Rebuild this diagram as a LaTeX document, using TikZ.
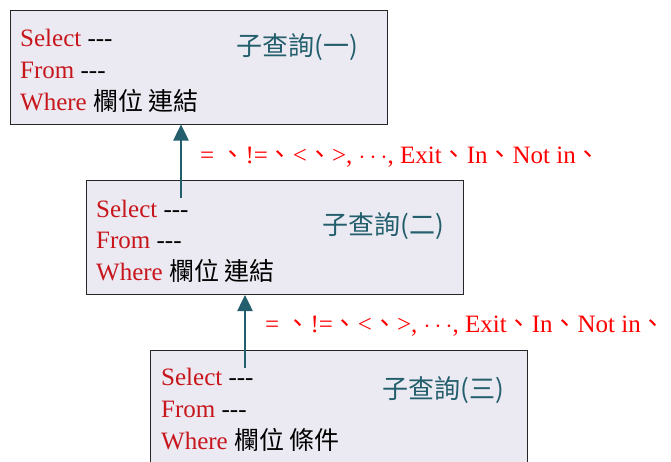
\documentclass[tikz,border=0pt]{standalone}
\usepackage{fontspec}
\setmainfont{Liberation Serif}
\newfontfamily\cjk{Noto Sans CJK TC}
\usetikzlibrary{arrows.meta,positioning}
\usepackage{xcolor}
\definecolor{boxfill}{HTML}{EBE9F1}
\definecolor{kwred}{HTML}{C8161D}
\definecolor{opred}{HTML}{FF0000}
\definecolor{darkteal}{HTML}{225E6C}
\newcommand{\Kw}[1]{\textcolor{kwred}{#1}}
\newcommand{\Zh}[1]{{\cjk #1}}
\newcommand{\Dashes}{{-}{-}{-}}
\newcommand{\Ops}{= \Zh{、}!=\Zh{、}<\Zh{、}>, $\cdots$, Exit\Zh{、}In\Zh{、}Not in\Zh{、}}

\begin{document}
\begin{tikzpicture}[x=1pt,y=-1pt,
  qbox/.style={rectangle,draw=black!85,line width=1pt,fill=boxfill,inner sep=0pt,minimum width=377pt,minimum height=114pt},
  qline/.style={anchor=base west,inner sep=0pt,font=\fontsize{25}{25}\selectfont},
  qname/.style={anchor=center,inner sep=0pt,text=darkteal,font=\cjk\fontsize{26}{26}\selectfont},
  ops/.style={anchor=base west,inner sep=0pt,text=opred,font=\fontsize{25}{25}\selectfont},
  up/.style={-{Triangle[width=15pt,length=16pt]},line width=2.5pt,draw=darkteal}]
\useasboundingbox (0,0) rectangle (671,461);
\clip (0,0) rectangle (671,461);
% \draw[help lines] (0,0) grid[step=50] (671,461);
\node (q1) [qbox] at (198.5,67) {};
\node (q2) [qbox] at (275,237.5) {};
\node (q3) [qbox,minimum height=130pt] at (339,415) {};
%
\node (q1s) [qline] at (20,46) {\Kw{Select} \Dashes};
\node (q1f) [qline] at (20,78) {\Kw{From} \Dashes};
\node (q1w) [qline] at (20,110) {\Kw{Where} \Zh{欄位 連結}};
\node (q1t) [qname] at (297.5,47) {子查詢(一)};
%
\node (q2s) [qline] at (96,217) {\Kw{Select} \Dashes};
\node (q2f) [qline] at (96,248) {\Kw{From} \Dashes};
\node (q2w) [qline] at (96,280) {\Kw{Where} \Zh{欄位 連結}};
\node (q2t) [qname] at (383.5,226) {子查詢(二)};
%
\node (q3s) [qline] at (161,385) {\Kw{Select} \Dashes};
\node (q3f) [qline] at (161,417) {\Kw{From} \Dashes};
\node (q3w) [qline] at (161,449) {\Kw{Where} \Zh{欄位 條件}};
\node (q3t) [qname] at (443,390) {子查詢(三)};
%
\node (op1) [ops] at (200,163) {\Ops};
\node (op2) [ops] at (265,332) {\Ops};
%
\coordinate (a1) at (181,198);
\coordinate (a2) at (245,368);
\draw[up] (a1) -- (a1 |- q1.south);
\draw[up] (a2) -- (a2 |- q2.south);
\end{tikzpicture}
\end{document}
